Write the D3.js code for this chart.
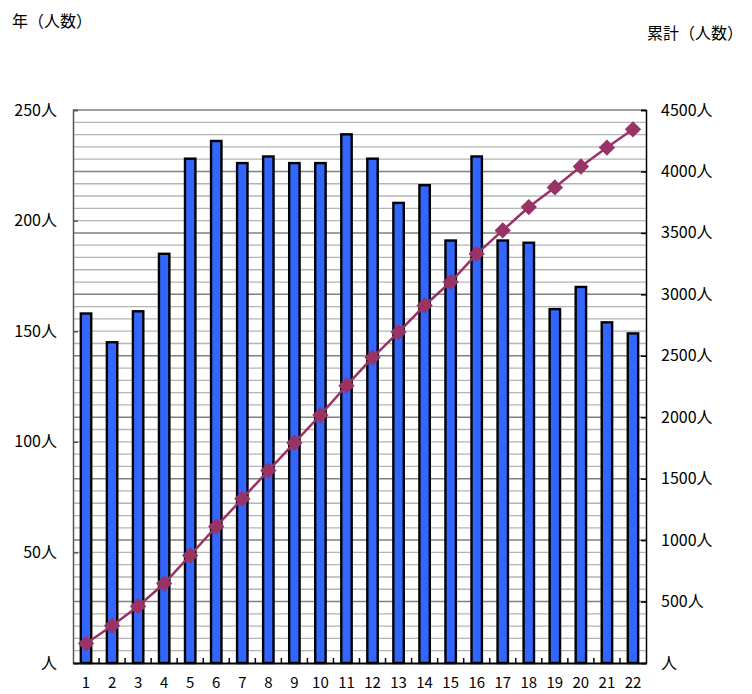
<!DOCTYPE html>
<html>
<head>
<meta charset="utf-8">
<script src="https://cdn.jsdelivr.net/npm/d3@7"></script>
<style>
body { margin: 0; background: #fff; }
text { font-family: "Noto Sans CJK JP", "Noto Sans", sans-serif; fill: #000; }
</style>
</head>
<body>
<script>
// data
let years = ["1","2","3","4","5","6","7","8","9","10","11","12","13","14","15","16","17","18","19","20","21","22"];
let yearly = [158,145,159,185,228,236,226,229,226,226,239,228,208,216,191,229,191,190,160,170,154,149];
let cumulative = [158,303,462,647,875,1111,1337,1566,1792,2018,2257,2485,2693,2909,3100,3329,3520,3710,3870,4040,4194,4343];
let leftTicks = [0,50,100,150,200,250];
let rightTicks = [0,500,1000,1500,2000,2500,3000,3500,4000,4500];

let svgWidth = 752;
let svgHeight = 694;
let margin = {top: 110, right: 106, bottom: 31, left: 73};
let width = svgWidth - margin.left - margin.right;
let height = svgHeight - margin.top - margin.bottom;

let svg = d3.select("body").append("svg")
    .attr("width", svgWidth)
    .attr("height", svgHeight);

let chartGroup = svg.append("g")
    .attr("transform", `translate(${margin.left}, ${margin.top})`);

let xScale = d3.scaleBand().domain(years).range([0, width]);
let yLeft = d3.scaleLinear().domain([0, 250]).range([height, 0]);
let yRight = d3.scaleLinear().domain([0, 4500]).range([height, 0]);

// gridlines (minor every 100, major every 500 on the right scale)
let minor = d3.range(100, 4501, 100).filter(v => v % 500 !== 0);
chartGroup.selectAll(".minor").data(minor).enter().append("line")
    .attr("x1", 0).attr("x2", width)
    .attr("y1", d => yRight(d)).attr("y2", d => yRight(d))
    .attr("stroke", "#b4b4b4").attr("stroke-width", 1.3);
chartGroup.selectAll(".major").data(rightTicks.filter(v => v > 0)).enter().append("line")
    .attr("x1", 0).attr("x2", width)
    .attr("y1", d => yRight(d)).attr("y2", d => yRight(d))
    .attr("stroke", "#808080").attr("stroke-width", 1.5);

// bars
let barW = xScale.bandwidth() * 0.4;
chartGroup.selectAll("rect.bar").data(yearly).enter().append("rect")
    .attr("x", (d, i) => xScale(years[i]) + (xScale.bandwidth() - barW) / 2)
    .attr("y", d => yLeft(d))
    .attr("width", barW)
    .attr("height", d => height - yLeft(d))
    .attr("fill", "#3366ff")
    .attr("stroke", "#000")
    .attr("stroke-width", 2.4);

// axes
let leftAxis = d3.axisLeft(yLeft).tickValues(leftTicks).tickSize(-5).tickFormat("");
let gl = chartGroup.append("g").call(leftAxis);
gl.select(".domain").attr("stroke", "#555").attr("stroke-width", 1.5);
gl.selectAll(".tick line").attr("stroke", "#555").attr("stroke-width", 1.5);

let rightAxis = d3.axisRight(yRight).tickValues(rightTicks).tickSize(-5).tickFormat("");
let gr = chartGroup.append("g").attr("transform", `translate(${width}, 0)`).call(rightAxis);
gr.select(".domain").attr("stroke", "#000").attr("stroke-width", 1.5);
gr.selectAll(".tick line").attr("stroke", "#000").attr("stroke-width", 1.5);

let bottomAxis = d3.axisBottom(xScale).tickSize(0).tickFormat("");
let gb = chartGroup.append("g").attr("transform", `translate(0, ${height})`).call(bottomAxis);
gb.select(".domain").attr("stroke", "#000").attr("stroke-width", 2);
chartGroup.selectAll(".xtick").data(years.slice(1)).enter().append("line")
    .attr("x1", d => xScale(d)).attr("x2", d => xScale(d))
    .attr("y1", height).attr("y2", height - 5)
    .attr("stroke", "#000").attr("stroke-width", 1.5);

// cumulative line
let line = d3.line()
    .x((d, i) => xScale(years[i]) + xScale.bandwidth() / 2)
    .y(d => yRight(d));
chartGroup.append("path").datum(cumulative)
    .attr("d", line)
    .attr("fill", "none")
    .attr("stroke", "#993366")
    .attr("stroke-width", 2.5);
chartGroup.selectAll("path.marker").data(cumulative).enter().append("path")
    .attr("transform", (d, i) => `translate(${xScale(years[i]) + xScale.bandwidth() / 2}, ${yRight(d)})`)
    .attr("d", d3.symbol().type(d3.symbolDiamond2).size(170))
    .attr("fill", "#993366");

// tick labels
chartGroup.selectAll(".lt").data(leftTicks).enter().append("text")
    .attr("x", -16).attr("y", d => yLeft(d)).attr("dy", "0.35em")
    .attr("text-anchor", "end").style("font-size", "16px")
    .text(d => d === 0 ? "人" : d + "人");
chartGroup.selectAll(".rt").data(rightTicks).enter().append("text")
    .attr("x", width + 15).attr("y", d => yRight(d)).attr("dy", "0.35em")
    .attr("text-anchor", "start").style("font-size", "16px")
    .text(d => d === 0 ? "人" : d + "人");
chartGroup.selectAll(".xt").data(years).enter().append("text")
    .attr("x", d => xScale(d) + xScale.bandwidth() / 2).attr("y", height + 25)
    .attr("text-anchor", "middle").style("font-size", "15px")
    .text(d => d);

// titles
svg.append("text").attr("x", 12).attr("y", 27).style("font-size", "16px").text("年（人数）");
svg.append("text").attr("x", 647).attr("y", 39).style("font-size", "16px").text("累計（人数）");
</script>
</body>
</html>
